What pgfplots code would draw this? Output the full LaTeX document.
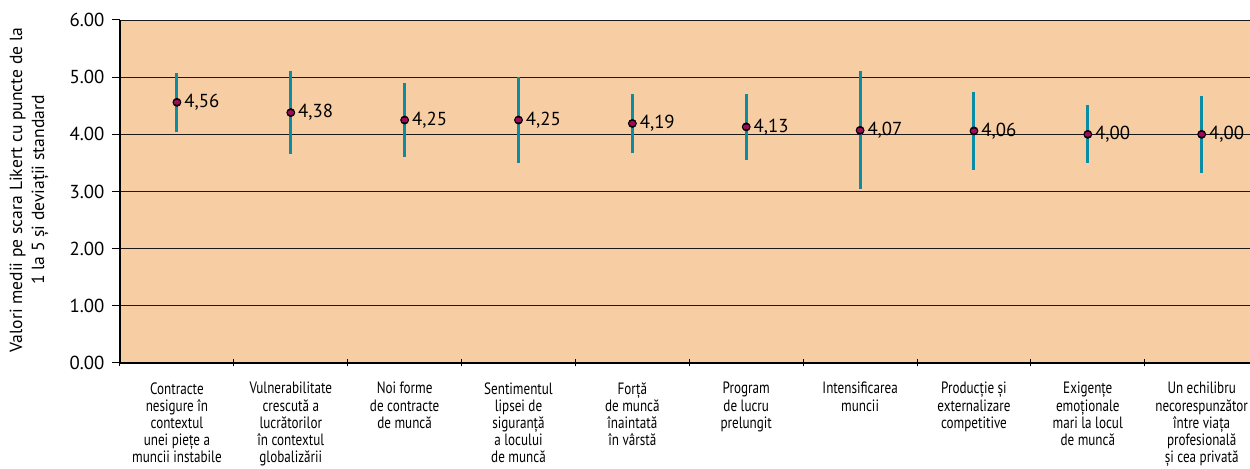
\documentclass[border=0pt]{standalone}
\usepackage{fontspec}
\setmainfont{PT Sans}
\newfontfamily\condfont[FakeStretch=0.8]{PT Sans}
\usepackage{pgfplots}
\usepackage{pgfplotstable}
\pgfplotsset{compat=1.18}
\definecolor{peach}{RGB}{247,206,164}
\definecolor{barteal}{RGB}{10,140,165}
\definecolor{dotred}{RGB}{160,10,90}
\pgfplotstableread{
x y e lab
0 4.56 0.52 4,56
1 4.38 0.73 4,38
2 4.25 0.65 4,25
3 4.25 0.76 4,25
4 4.19 0.52 4,19
5 4.13 0.58 4,13
6 4.07 1.03 4,07
7 4.06 0.68 4,06
8 4.00 0.51 4,00
9 4.00 0.67 4,00
}\datatable
\begin{document}
\begin{tikzpicture}
\begin{axis}[
  scale only axis, width=569.3pt, height=171.5pt,
  xmin=-0.5, xmax=9.5, ymin=0, ymax=6,
  axis lines*=left,
  axis line style={line width=0.75pt, color=black},
  axis background/.style={fill=peach},
  ytick={0,1,...,6},
  ymajorgrids, grid style={line width=0.45pt, color=black!90},
  yticklabel style={font=\fontsize{9.4}{9.4}\selectfont, /pgf/number format/fixed, /pgf/number format/fixed zerofill, /pgf/number format/precision=2, /pgf/number format/assume math mode=true},
  ytick align=outside,
  ytick style={line width=0.5pt, /pgfplots/major tick length=4pt, black},
  xtick={-0.5,0.5,1.5,2.5,3.5,4.5,5.5,6.5,7.5,8.5,9.5},
  x tick label as interval,
  xticklabels={
    {Contracte\\nesigure în\\contextul\\unei piețe a\\muncii instabile},
    {Vulnerabilitate\\crescută a\\lucrătorilor\\în contextul\\globalizării},
    {Noi forme\\de contracte\\de muncă},
    {Sentimentul\\lipsei de\\siguranță\\a locului\\de muncă},
    {Forță\\de muncă\\înaintată\\în vârstă},
    {Program\\de lucru\\prelungit},
    {Intensificarea\\muncii},
    {Producție și\\externalizare\\competitive},
    {Exigențe\\emoționale\\mari la locul\\de muncă},
    {Un echilibru\\necorespunzător\\între viața\\profesională\\și cea privată}},
  xticklabel style={align=center, font=\condfont\fontsize{8.2}{8.6}\selectfont, anchor=north, yshift=-4pt},
  xtick align=center,
  xtick style={line width=0.5pt, /pgfplots/major tick length=3.5pt, black},
]
\addplot[only marks, mark=none,
  error bars/.cd, y dir=both, y explicit, error mark=none,
  error bar style={line width=1.5pt, barteal, solid}]
  table[x=x, y=y, y error=e] {\datatable};
\addplot[only marks, mark=*, mark size=1.0pt,
  mark options={fill=dotred, draw=dotred, xscale=1.4},
  nodes near coords, point meta=explicit symbolic,
  every node near coord/.append style={anchor=west, xshift=3pt, font=\fontsize{9.4}{9.4}\selectfont, text=black, inner sep=0.5pt}]
  table[x=x, y=y, meta=lab] {\datatable};
\coordinate (sw) at (rel axis cs:0,0);
\end{axis}
\path (sw) ++(-45.5pt,86.5pt) node[rotate=90, align=center, font=\fontsize{8.8}{11}\selectfont]{Valori medii pe scara Likert cu puncte de la\\1 la 5 și deviații standard};
\pgfresetboundingbox
\path[use as bounding box] (sw) ++(-60pt,-53pt) rectangle ++(625pt,234.5pt);
\end{tikzpicture}
\end{document}
